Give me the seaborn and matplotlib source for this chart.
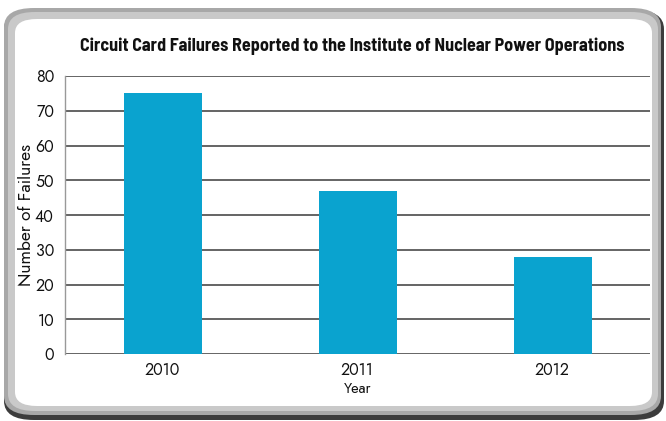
import matplotlib
matplotlib.use("Agg")
import matplotlib.pyplot as plt
import seaborn as sns
import pandas as pd
from matplotlib.patches import FancyBboxPatch

years = ["2010", "2011", "2012"]
failures = [75, 47, 28]
title = "Circuit Card Failures Reported to the Institute of Nuclear Power Operations"
xlabel = "Year"
ylabel = "Number of Failures"
yticks = [0, 10, 20, 30, 40, 50, 60, 70, 80]

sns.set_style("white")
BODY = ["Jost", "Futura", "Questrial", "Didact Gothic", "DejaVu Sans"]
plt.rcParams['font.family'] = BODY

W, H = 666, 421
fig = plt.figure(figsize=(W / 100, H / 100), dpi=100)
fig.patch.set_facecolor("white")

def rrect(x0, y0, x1, y1, r, color, z):
    p = FancyBboxPatch((x0 / W, 1 - y1 / H), (x1 - x0) / W, (y1 - y0) / H,
                       boxstyle=f"round,pad=0,rounding_size={r / W}",
                       transform=fig.transFigure, facecolor=color,
                       edgecolor="none", zorder=z)
    fig.patches.append(p)

rrect(4, 10, 664, 420, 30, "#3c3c3c", 0)
rrect(4, 8, 661, 415, 30, "#a8a8a8", 1)
rrect(8, 12, 658, 411, 27, "#c9c9c9", 2)
rrect(15, 19, 652, 406, 22, "#ffffff", 3)

ax = fig.add_axes([65 / W, 1 - 354 / H, (650 - 65) / W, (354 - 76) / H])
ax.set_zorder(5)
ax.patch.set_alpha(0)

df = pd.DataFrame({"Year": years, "Failures": failures})
sns.barplot(data=df, x="Year", y="Failures", color="#0aa3cf", width=0.4,
            saturation=1, ax=ax, zorder=3, edgecolor="none", linewidth=0)

ax.set_xlim(-0.5, 2.5)
ax.set_ylim(0, 80)
ax.set_yticks(yticks)
ax.set_xticks([0.5, 1.5], minor=True)
ax.yaxis.grid(True, color="#4a4a4a", linewidth=1.2, zorder=1)
ax.set_axisbelow(True)
for s in ["top", "right", "bottom"]:
    ax.spines[s].set_visible(False)
ax.spines["left"].set_color("#999999")
ax.spines["left"].set_linewidth(1.0)
ax.tick_params(axis="y", length=5, width=1, color="#777777", labelsize=11.5,
               pad=3, labelcolor="#111111")
ax.tick_params(axis="x", which="major", length=0, labelsize=11.5, pad=6,
               labelcolor="#111111")
ax.tick_params(axis="x", which="minor", length=3, width=1, color="#888888",
               direction="out")
ax.set_xlabel(xlabel, fontsize=10.5, labelpad=1, color="#111111")
ax.set_ylabel(ylabel, fontsize=12.5, color="#111111", va="center")
ax.yaxis.set_label_coords((26 - 65) / 585, 0.5)

fig.text(352 / W, 1 - 46 / H, title, ha="center", va="center",
         fontsize=13, fontweight="bold", color="#111111",
         family=["Barlow Semi Condensed", "Asap Condensed", "DejaVu Sans"], zorder=6)

fig.savefig("out.png", dpi=100)
